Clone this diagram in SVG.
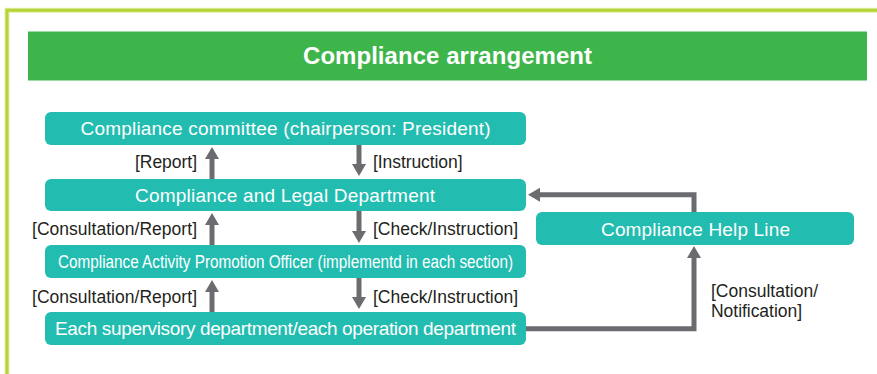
<svg xmlns="http://www.w3.org/2000/svg" width="877" height="374" viewBox="0 0 877 374">
  <defs>
    <style>
      .node { fill: #22bdb0; }
      .ntext { fill: #ffffff; font-family: "Liberation Sans", Arial, sans-serif; font-size: 19px; text-anchor: middle; }
      .label { fill: #231f20; font-family: "Liberation Sans", Arial, sans-serif; font-size: 17.5px; }
      .conn { fill: none; stroke: #6b6c70; stroke-width: 5; stroke-linejoin: miter; }
    </style>
    <marker id="ah" viewBox="0 -7 12 14" markerWidth="12" markerHeight="14" refX="0" refY="0" orient="auto" markerUnits="userSpaceOnUse">
      <path d="M0,-7 L12,0 L0,7 z" fill="#6b6c70"/>
    </marker>
  </defs>
  <rect x="0" y="0" width="877" height="374" fill="#ffffff"/>
  <path d="M7,380 L7,10.3 L880,10.3" fill="none" stroke="#e2edb0" stroke-width="5"/>
  <path d="M7,380 L7,10.3 L880,10.3" fill="none" stroke="#b6d433" stroke-width="3"/>

  <g id="header">
    <rect x="28" y="31.5" width="839" height="49" fill="#3db54a"/>
    <text x="447.5" y="64" fill="#ffffff" font-family="'Liberation Sans', Arial, sans-serif" font-size="24" font-weight="bold" text-anchor="middle" textLength="289">Compliance arrangement</text>
  </g>

  <g id="connectors">
    <line class="conn" x1="212" y1="179" x2="212" y2="159" marker-end="url(#ah)"/>
    <line class="conn" x1="359" y1="145" x2="359" y2="164" marker-end="url(#ah)"/>
    <line class="conn" x1="212" y1="245" x2="212" y2="225" marker-end="url(#ah)"/>
    <line class="conn" x1="359" y1="211" x2="359" y2="231" marker-end="url(#ah)"/>
    <line class="conn" x1="212" y1="312" x2="212" y2="292" marker-end="url(#ah)"/>
    <line class="conn" x1="359" y1="278" x2="359" y2="297" marker-end="url(#ah)"/>
    <polyline class="conn" points="694,213 694,194.7 540,194.7" marker-end="url(#ah)"/>
    <polyline class="conn" points="525,328.7 694,328.7 694,258" marker-end="url(#ah)"/>
    <text class="label" x="197" y="168" text-anchor="end" textLength="62">[Report]</text>
    <text class="label" x="373" y="168" textLength="89.5">[Instruction]</text>
    <text class="label" x="197" y="235" text-anchor="end" textLength="165">[Consultation/Report]</text>
    <text class="label" x="373" y="235" textLength="145">[Check/Instruction]</text>
    <text class="label" x="197" y="303" text-anchor="end" textLength="165">[Consultation/Report]</text>
    <text class="label" x="373" y="303" textLength="145">[Check/Instruction]</text>
    <text class="label" x="711" y="297" textLength="107">[Consultation/</text>
    <text class="label" x="711" y="317" textLength="91">Notification]</text>
  </g>

  <g id="committee">
    <rect class="node" x="45" y="112" width="481" height="33" rx="6"/>
    <text class="ntext" x="285.5" y="134.8" textLength="410">Compliance committee (chairperson: President)</text>
  </g>
  <g id="legal">
    <rect class="node" x="45" y="179" width="481" height="32" rx="6"/>
    <text class="ntext" x="285" y="201.8" textLength="300">Compliance and Legal Department</text>
  </g>
  <g id="officer">
    <rect class="node" x="45" y="245" width="481" height="33" rx="6"/>
    <text class="ntext" x="285.5" y="267.8" font-size="18" textLength="455" lengthAdjust="spacingAndGlyphs">Compliance Activity Promotion Officer (implementd in each section)</text>
  </g>
  <g id="departments">
    <rect class="node" x="45" y="312" width="481" height="33" rx="6"/>
    <text class="ntext" x="285.5" y="335.3" textLength="461">Each supervisory department/each operation department</text>
  </g>
  <g id="helpline">
    <rect class="node" x="536" y="212" width="318" height="33" rx="6"/>
    <text class="ntext" x="695.5" y="235.8" textLength="189">Compliance Help Line</text>
  </g>
</svg>
